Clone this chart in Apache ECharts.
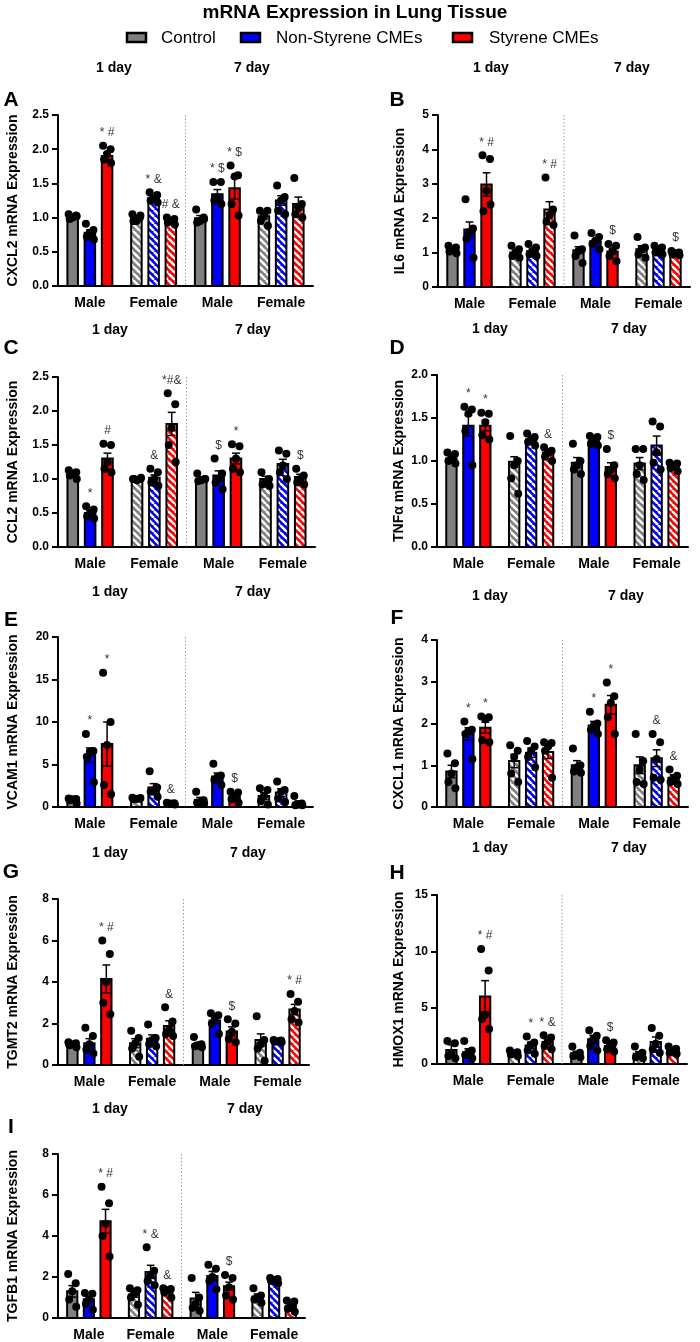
<!DOCTYPE html>
<html><head><meta charset="utf-8">
<script src="https://cdn.jsdelivr.net/npm/echarts@6/dist/echarts.min.js"></script>
<style>html,body{margin:0;padding:0;background:#fff}#c{width:700px;height:1342px}</style>
</head><body><div id="c"></div><script>
// ---------- DATA ----------
const groups = ['Male', 'Female', 'Male', 'Female'];
const treatments = ['Control', 'Non-Styrene CMEs', 'Styrene CMEs'];
const dayLabels = ['1 day', '7 day'];
const panelLetters = ['A','B','C','D','E','F','G','H','I'];
const yNames = ['CXCL2 mRNA Expression','IL6 mRNA Expression','CCL2 mRNA Expression','TNFα mRNA Expression','VCAM1 mRNA Expression','CXCL1 mRNA Expression','TGMT2 mRNA Expression','HMOX1 mRNA Expression','TGFB1 mRNA Expression'];
const yMaxes = [2.5, 5, 2.5, 2.0, 20, 4, 8, 15, 8];
const ySteps = [0.5, 1, 0.5, 0.5, 5, 1, 2, 5, 2];
const yDecimals = [1, 0, 1, 1, 0, 0, 0, 0, 0];

// bar order: Male 1d (Ctrl, Non-Sty, Sty), Female 1d (...), Male 7d (...), Female 7d (...)
const cxcl2Means = [1.00,0.78,1.90,1.00,1.29,0.95,0.99,1.34,1.43,1.02,1.25,1.20];
const cxcl2Sems  = [0.02,0.04,0.05,0.03,0.03,0.02,0.04,0.07,0.16,0.04,0.07,0.10];
const cxcl2Dots  = [[1.05,1.03,1.00,0.98,1.02],[0.91,0.82,0.78,0.72,0.68],[2.05,2.00,1.93,1.85,1.80],[1.05,1.00,0.95,0.95,1.03],[1.37,1.33,1.28,1.25,1.22],[1.00,0.98,0.95,0.93,0.90],[1.12,1.00,0.95,0.93,0.98],[1.52,1.52,1.30,1.25,1.20],[1.76,1.62,1.60,1.20,1.03],[1.10,1.10,1.02,0.95,0.88],[1.47,1.30,1.25,1.10,1.05],[1.58,1.20,1.15,1.05,1.00]];
const cxcl2Marks = ['','','* #','','* &','# &','','* $','* $','','',''];

const il6Means = [1.08,1.67,2.98,1.00,1.05,2.25,1.07,1.33,1.03,1.10,1.07,0.98];
const il6Sems  = [0.04,0.22,0.34,0.05,0.06,0.23,0.10,0.06,0.08,0.10,0.05,0.03];
const il6Dots  = [[1.20,1.15,1.10,1.03,0.98],[2.55,1.70,1.60,1.40,0.85],[3.83,3.72,2.80,2.20,2.40],[1.20,1.10,1.00,0.90,0.85],[1.25,1.15,1.05,0.95,0.90],[3.18,2.25,2.10,1.90,1.80],[1.50,1.10,1.05,0.90,0.70],[1.57,1.45,1.35,1.25,1.10],[1.25,1.20,1.05,0.90,0.75],[1.45,1.15,1.10,0.95,0.85],[1.20,1.15,1.10,1.00,0.95],[1.05,1.00,0.98,0.95,0.92]];
const il6Marks = ['','','* #','','','* #','','','$','','','$'];

const ccl2Means = [1.07,0.50,1.30,1.00,1.02,1.81,1.00,1.05,1.30,1.00,1.22,1.03];
const ccl2Sems  = [0.03,0.04,0.08,0.01,0.04,0.17,0.03,0.07,0.08,0.04,0.07,0.04];
const ccl2Dots  = [[1.13,1.10,1.08,1.05,1.00],[0.60,0.55,0.50,0.45,0.42],[1.52,1.50,1.25,1.15,1.10],[1.00,1.00,0.98,1.00,1.02],[1.15,1.10,1.00,0.95,0.90],[2.26,2.10,1.75,1.50,1.25],[1.08,1.00,0.98,0.97,1.00],[1.30,1.08,1.00,0.95,0.85],[1.51,1.48,1.30,1.15,1.10],[1.10,1.00,0.95,0.92,0.90],[1.42,1.37,1.20,1.10,1.00],[1.15,1.05,1.00,0.95,0.92]];
const ccl2Marks = ['','*','#','','&','*#&','','$','*','','','$'];

const tnfMeans = [1.03,1.41,1.41,0.99,1.25,1.10,0.98,1.23,0.93,0.97,1.18,0.94];
const tnfSems  = [0.03,0.12,0.06,0.06,0.03,0.03,0.06,0.02,0.05,0.07,0.11,0.02];
const tnfDots  = [[1.10,1.08,1.03,1.00,0.97],[1.63,1.60,1.55,1.35,0.95],[1.56,1.55,1.45,1.30,1.25],[1.29,1.00,0.95,0.80,0.62],[1.32,1.28,1.25,1.22,1.18],[1.16,1.12,1.10,1.05,1.00],[1.20,1.00,0.95,0.90,0.85],[1.29,1.28,1.25,1.20,1.18],[1.14,0.95,0.90,0.85,0.80],[1.14,1.14,0.95,0.85,0.78],[1.46,1.40,1.10,0.98,0.90],[0.98,0.97,0.95,0.92,0.88]];
const tnfMarks = ['','*','*','','','&','','','$','','',''];

const vcam1Means = [0.90,6.10,7.40,1.00,2.30,0.40,0.85,3.60,1.25,1.30,1.70,0.50];
const vcam1Sems  = [0.12,0.85,2.60,0.05,0.45,0.04,0.28,0.40,0.45,0.40,0.45,0.22];
const vcam1Dots  = [[1.00,0.95,0.90,0.80,0.40],[8.60,6.60,6.50,5.90,2.90],[15.80,10.00,7.30,2.60,1.50],[1.10,1.00,0.95,0.90,1.05],[4.20,2.30,2.00,1.80,1.20],[0.50,0.45,0.40,0.35,0.30],[1.80,0.80,0.60,0.50,0.40],[5.10,3.70,3.50,3.20,2.60],[1.80,1.70,1.20,0.90,0.50],[2.20,2.00,1.30,0.70,0.30],[3.00,2.00,1.80,1.00,0.60],[1.30,0.40,0.30,0.20,0.20]];
const vcam1Marks = ['','*','*','','','&','','','$','','',''];

const cxcl1Means = [0.85,1.75,1.90,1.10,1.30,1.32,1.00,1.95,2.45,1.00,1.17,0.70];
const cxcl1Sems  = [0.15,0.15,0.13,0.16,0.11,0.16,0.11,0.10,0.22,0.20,0.20,0.07];
const cxcl1Dots  = [[1.28,1.05,0.80,0.60,0.45],[2.05,1.85,1.82,1.75,1.15],[2.17,2.15,2.10,1.60,1.55],[1.48,1.35,1.20,0.80,0.60],[1.58,1.45,1.35,1.20,0.95],[1.55,1.53,1.45,1.35,0.70],[1.40,1.00,0.95,0.85,0.82],[2.28,2.00,1.95,1.85,1.75],[2.98,2.65,2.50,2.15,1.75],[1.75,1.10,0.90,0.60,0.55],[1.75,1.55,1.15,0.70,0.65],[0.90,0.75,0.70,0.60,0.55]];
const cxcl1Marks = ['','*','*','','','','','*','*','','&','&'];

const tgmt2Means = [1.00,1.05,4.15,1.05,1.27,1.88,1.00,2.15,1.62,1.20,1.15,2.67];
const tgmt2Sems  = [0.05,0.22,0.67,0.22,0.18,0.25,0.08,0.15,0.22,0.30,0.02,0.25];
const tgmt2Dots  = [[1.10,1.05,1.00,0.95,0.85],[1.80,1.40,1.00,0.75,0.55],[6.00,5.35,4.00,3.00,2.45],[1.65,1.30,1.05,0.80,0.40],[1.95,1.30,1.20,1.00,0.90],[2.78,2.10,1.70,1.50,1.40],[1.35,1.00,0.95,0.90,0.85],[2.50,2.40,2.30,2.00,1.50],[2.20,2.00,1.60,1.25,1.10],[2.35,1.20,1.00,0.80,0.20],[1.20,1.18,1.15,1.12,1.10],[3.42,3.05,2.60,2.20,2.05]];
const tgmt2Marks = ['','','* #','','','&','','','$','','','* #'];

const hmox1Means = [1.25,1.05,6.00,0.95,1.65,1.95,0.95,2.20,1.60,0.90,1.95,1.20];
const hmox1Sems  = [0.45,0.30,1.40,0.08,0.28,0.25,0.18,0.35,0.18,0.20,0.45,0.12];
const hmox1Dots  = [[2.05,1.85,1.00,0.70,0.50],[2.05,1.20,1.00,0.80,0.50],[10.20,8.30,4.40,4.00,3.10],[1.20,1.05,0.95,0.85,0.70],[2.45,1.90,1.70,1.20,0.90],[2.55,2.35,2.00,1.60,1.30],[1.55,1.00,0.80,0.70,0.60],[3.00,2.50,2.20,1.60,1.20],[2.10,1.90,1.60,1.30,1.10],[1.55,1.00,0.80,0.60,0.50],[3.20,2.50,1.80,1.30,1.00],[1.55,1.35,1.20,1.00,0.90]];
const hmox1Marks = ['','','* #','','*','* &','','','$','','',''];

const tgfb1Means = [1.30,0.92,4.72,1.15,2.25,1.30,0.95,2.05,1.55,1.05,1.85,0.60];
const tgfb1Sems  = [0.28,0.15,0.58,0.14,0.32,0.08,0.30,0.22,0.20,0.12,0.06,0.10];
const tgfb1Dots  = [[2.15,1.70,1.30,0.90,0.55],[1.22,1.18,0.90,0.70,0.40],[6.40,5.60,4.60,4.00,3.00],[1.45,1.35,1.20,1.00,0.65],[3.45,2.30,2.10,1.80,1.60],[1.45,1.42,1.35,1.25,1.00],[1.95,1.00,0.70,0.50,0.35],[2.60,2.40,2.00,1.80,1.40],[2.10,1.95,1.50,1.10,0.90],[1.45,1.10,1.00,0.90,0.75],[1.95,1.90,1.85,1.80,1.70],[0.85,0.80,0.60,0.45,0.30]];
const tgfb1Marks = ['','','* #','','* &','&','','','$','','',''];

// ---------- STYLE / LAYOUT ----------
const FF = '"Liberation Sans", Arial, sans-serif';
const colors = ['#808080', '#0000ff', '#ff0000'];
const panels = [
  {means:cxcl2Means, sems:cxcl2Sems, dots:cxcl2Dots, marks:cxcl2Marks},
  {means:il6Means, sems:il6Sems, dots:il6Dots, marks:il6Marks},
  {means:ccl2Means, sems:ccl2Sems, dots:ccl2Dots, marks:ccl2Marks},
  {means:tnfMeans, sems:tnfSems, dots:tnfDots, marks:tnfMarks},
  {means:vcam1Means, sems:vcam1Sems, dots:vcam1Dots, marks:vcam1Marks},
  {means:cxcl1Means, sems:cxcl1Sems, dots:cxcl1Dots, marks:cxcl1Marks},
  {means:tgmt2Means, sems:tgmt2Sems, dots:tgmt2Dots, marks:tgmt2Marks},
  {means:hmox1Means, sems:hmox1Sems, dots:hmox1Dots, marks:hmox1Marks},
  {means:tgfb1Means, sems:tgfb1Sems, dots:tgfb1Dots, marks:tgfb1Marks}
];
const layout = [
  {L:58, T:115, W:255, H:171, letter:[11,100],  day:[[114,68],[252,68]],  gap:38},
  {L:438,T:115, W:252, H:172, letter:[397,100], day:[[491,68],[632,68]],  gap:31},
  {L:58, T:377, W:257, H:170, letter:[11,348],  day:[[110,330],[253,330]],gap:38},
  {L:437,T:375, W:251, H:172, letter:[397,348], day:[[490,329],[629,329]],gap:31},
  {L:58, T:637, W:255, H:170, letter:[11,620],  day:[[110,592],[253,592]],gap:38},
  {L:437,T:640, W:251, H:167, letter:[397,618], day:[[490,596],[626,596]],gap:31},
  {L:58, T:899, W:251, H:166, letter:[11,872],  day:[[110,853],[248,853]],gap:38},
  {L:437,T:895, W:250, H:169, letter:[397,873], day:[[490,848],[629,848]],gap:31},
  {L:58, T:1154,W:247, H:164, letter:[11,1127], day:[[110,1109],[245,1109]],gap:38}
];
const jitter = [-4, 3.5, 0, -3, 4];

function hatch(color) {
  const s = 7, c = document.createElement('canvas');
  c.width = s; c.height = s;
  const x = c.getContext('2d');
  x.fillStyle = color; x.fillRect(0, 0, s, s);
  x.strokeStyle = '#ffffff'; x.lineWidth = 2.4;
  x.beginPath();
  for (let k = -1; k <= 1; k++) { x.moveTo(k * s, 0); x.lineTo(k * s + s, s); }
  x.stroke();
  return {image: c, repeat: 'repeat'};
}
const patterns = colors.map(hatch);

function makeRender(p, k) {
  return function (params, api) {
    const i = params.dataIndex;
    const g = api.value(0), mean = api.value(1), sem = api.value(2), t = api.value(3);
    const band = api.size([1, 0])[0];
    const base = api.coord([g, 0]);
    const cx = base[0] + (t - 1) * band * 0.27;
    const y0 = base[1];
    const yTop = api.coord([g, mean])[1];
    const bw = band * 0.165;
    const ch = [];
    if (i === 0) {
      const sx = api.coord([1, 0])[0] + band / 2;
      const sy = api.coord([1, yMaxes[k]])[1];
      ch.push({type:'line', shape:{x1:sx, y1:sy, x2:sx, y2:y0}, style:{stroke:'#9a9a9a', lineWidth:1, lineDash:[1.5, 2]}});
    }
    ch.push({type:'rect', shape:{x:cx - bw / 2, y:yTop, width:bw, height:y0 - yTop},
      style:{fill: (g % 2 === 1) ? patterns[t] : colors[t], stroke:'#000', lineWidth:2}});
    const yHi = api.coord([g, mean + sem])[1];
    const yLo = api.coord([g, Math.max(0, mean - sem)])[1];
    const cap = bw * 0.75;
    ch.push({type:'line', shape:{x1:cx, y1:yLo, x2:cx, y2:yHi}, style:{stroke:'#000', lineWidth:1.5}});
    ch.push({type:'line', shape:{x1:cx - cap / 2, y1:yHi, x2:cx + cap / 2, y2:yHi}, style:{stroke:'#000', lineWidth:1.5}});
    ch.push({type:'line', shape:{x1:cx - cap / 2, y1:yLo, x2:cx + cap / 2, y2:yLo}, style:{stroke:'#000', lineWidth:1.5}});
    let top = yHi;
    p.dots[i].forEach((v, j) => {
      const dy = api.coord([g, v])[1];
      top = Math.min(top, dy - 4);
      ch.push({type:'circle', shape:{cx:cx + jitter[j % jitter.length], cy:dy, r:4}, style:{fill:'#000'}});
    });
    if (p.marks[i]) {
      ch.push({type:'text', x:cx, y:top - 9, style:{text:p.marks[i], align:'center', verticalAlign:'middle',
        fill:'#333', font:'12px ' + FF}});
    }
    return {type:'group', children:ch};
  };
}

const option = {animation:false, backgroundColor:'#fff', textStyle:{fontFamily:FF},
  grid:[], xAxis:[], yAxis:[], series:[], graphic:[]};

panels.forEach((p, k) => {
  const lay = layout[k];
  option.grid.push({left:lay.L, top:lay.T, width:lay.W, height:lay.H});
  option.xAxis.push({type:'category', gridIndex:k, data:groups, boundaryGap:true,
    axisTick:{show:false}, axisLine:{show:true, lineStyle:{color:'#000', width:2}},
    axisLabel:{color:'#000', fontWeight:'bold', fontSize:14, margin:10, interval:0, fontFamily:FF}});
  option.yAxis.push({type:'value', gridIndex:k, min:0, max:yMaxes[k], interval:ySteps[k],
    name:yNames[k], nameLocation:'middle', nameRotate:90, nameGap:lay.gap,
    nameTextStyle:{color:'#000', fontWeight:'bold', fontSize:14, fontFamily:FF},
    axisLine:{show:true, lineStyle:{color:'#000', width:2}},
    axisTick:{show:true, length:6, lineStyle:{color:'#000', width:2}},
    axisLabel:{color:'#000', fontWeight:'bold', fontSize:12, margin:9, fontFamily:FF,
      formatter: v => yDecimals[k] ? v.toFixed(1) : String(v)},
    splitLine:{show:false}});
  option.series.push({type:'custom', name:yNames[k], xAxisIndex:k, yAxisIndex:k, clip:false,
    data:p.means.map((m, i) => [Math.floor(i / 3), m, p.sems[i], i % 3]),
    encode:{x:0, y:1}, renderItem:makeRender(p, k)});
  option.graphic.push({type:'text', x:lay.letter[0], y:lay.letter[1],
    style:{text:panelLetters[k], align:'center', verticalAlign:'middle', fill:'#000', font:'bold 21px ' + FF}});
  lay.day.forEach((d, j) => option.graphic.push({type:'text', x:d[0], y:d[1],
    style:{text:dayLabels[j], align:'center', verticalAlign:'middle', fill:'#000', font:'bold 14px ' + FF}}));
});

// title & legend
option.graphic.push({type:'text', x:355, y:13,
  style:{text:'mRNA Expression in Lung Tissue', align:'center', verticalAlign:'middle', fill:'#000', font:'bold 19px ' + FF}});
const legendX = [[127,161],[241,276],[453,489]];
treatments.forEach((name, t) => {
  option.graphic.push({type:'rect', shape:{x:legendX[t][0], y:33, width:19, height:9},
    style:{fill:colors[t], stroke:'#000', lineWidth:2.5}});
  option.graphic.push({type:'text', x:legendX[t][1], y:38,
    style:{text:name, align:'left', verticalAlign:'middle', fill:'#000', font:'17px ' + FF}});
});

const chart = echarts.init(document.getElementById('c'), null, {renderer:'canvas'});
chart.setOption(option);
</script></body></html>
